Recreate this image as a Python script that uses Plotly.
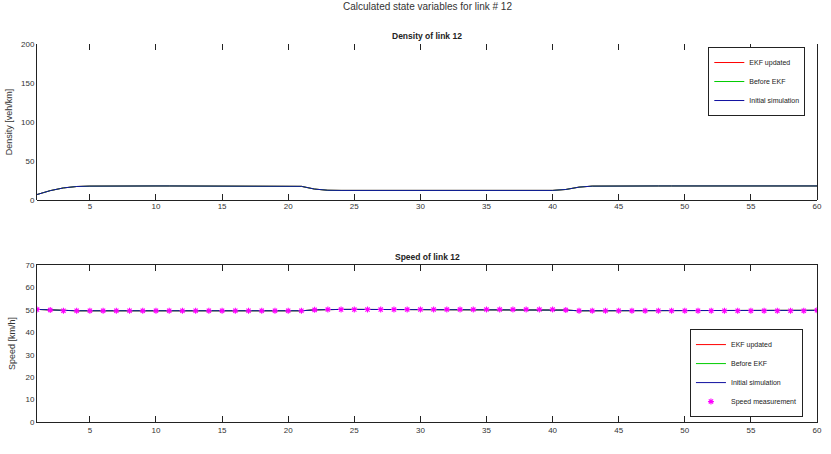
import plotly.graph_objects as go

steps = list(range(1, 61))

density_ekf = [7, 12, 15.5, 17.3, 17.8, 18, 18, 18, 18, 18,
               18, 18, 18, 18, 18, 18, 18, 18, 18, 18,
               17.5, 14, 12.5, 12.3, 12.3, 12.3, 12.3, 12.3, 12.3, 12.3,
               12.3, 12.3, 12.3, 12.3, 12.3, 12.3, 12.3, 12.3, 12.3, 12.3,
               13.5, 16.5, 17.8, 18, 18, 18, 18, 18, 18, 18,
               18, 18, 18, 18, 18, 18, 18, 18, 18, 18]
density_before = list(density_ekf)
density_initial = list(density_ekf)

speed_ekf = [50.2, 49.9, 49.6, 49.6, 49.6, 49.6, 49.6, 49.6, 49.6, 49.6,
             49.6, 49.6, 49.6, 49.6, 49.6, 49.6, 49.6, 49.6, 49.6, 49.6,
             49.6, 50.0, 50.2, 50.2, 50.2, 50.2, 50.2, 50.2, 50.2, 50.2,
             50.2, 50.2, 50.2, 50.2, 50.2, 50.2, 50.2, 50.2, 50.2, 50.2,
             49.9, 49.6, 49.6, 49.6, 49.6, 49.6, 49.6, 49.6, 49.6, 49.6,
             49.6, 49.6, 49.6, 49.6, 49.6, 49.6, 49.6, 49.6, 49.6, 49.8]
speed_before = list(speed_ekf)
speed_initial = list(speed_ekf)
speed_meas = list(speed_ekf)

x_ticks = [5, 10, 15, 20, 25, 30, 35, 40, 45, 50, 55, 60]
density_ticks = [0, 50, 100, 150, 200]
speed_ticks = [0, 10, 20, 30, 40, 50, 60, 70]

FONT = "Liberation Sans, Arial, sans-serif"

fig = go.Figure()

# Top: density
fig.add_trace(go.Scatter(x=steps, y=density_ekf, mode="lines", name="EKF updated",
                         line=dict(color="red", width=1), legend="legend", xaxis="x", yaxis="y"))
fig.add_trace(go.Scatter(x=steps, y=density_before, mode="lines", name="Before EKF",
                         line=dict(color="#00cc00", width=1), legend="legend", xaxis="x", yaxis="y"))
fig.add_trace(go.Scatter(x=steps, y=density_initial, mode="lines", name="Initial simulation",
                         line=dict(color="#1010a0", width=1), legend="legend", xaxis="x", yaxis="y"))

# Bottom: speed
fig.add_trace(go.Scatter(x=steps, y=speed_ekf, mode="lines", name="EKF updated",
                         line=dict(color="red", width=1), legend="legend2", xaxis="x2", yaxis="y2"))
fig.add_trace(go.Scatter(x=steps, y=speed_before, mode="lines", name="Before EKF",
                         line=dict(color="#00cc00", width=1), legend="legend2", xaxis="x2", yaxis="y2"))
fig.add_trace(go.Scatter(x=steps, y=speed_initial, mode="lines", name="Initial simulation",
                         line=dict(color="#1010a0", width=1), legend="legend2", xaxis="x2", yaxis="y2"))
fig.add_trace(go.Scatter(x=steps, y=speed_meas, mode="markers", name="Speed measurement",
                         marker=dict(symbol="asterisk-open", size=5, color="magenta",
                                     line=dict(color="magenta", width=1.1)),
                         legend="legend2", xaxis="x2", yaxis="y2"))

axis_font = dict(family=FONT, size=8, color="#333")

fig.update_layout(
    width=831, height=454,
    margin=dict(l=30, r=9, t=44, b=32),
    paper_bgcolor="white", plot_bgcolor="white",
    font=dict(family=FONT, size=8, color="#222"),
    xaxis=dict(domain=[0, 1], range=[1, 60], tickvals=x_ticks, ticks="inside", ticklen=6,
               tickcolor="#222", showline=False, mirror="ticks", showgrid=False,
               zeroline=False, tickfont=axis_font, anchor="y"),
    yaxis=dict(domain=[0.5873, 1], range=[0, 200], tickvals=density_ticks, ticks="",
               showline=True, linecolor="#222", linewidth=1, mirror=True, showgrid=False,
               zeroline=True, zerolinecolor="#222", zerolinewidth=1,
               tickfont=axis_font, anchor="x",
               title=dict(text="Density [veh/km]", font=dict(family=FONT, size=9, color="#333"), standoff=6)),
    xaxis2=dict(domain=[0, 1], range=[1, 60], tickvals=x_ticks, ticks="inside", ticklen=6,
                tickcolor="#222", showline=True, linecolor="#222", linewidth=1, mirror="ticks",
                showgrid=False, zeroline=False, tickfont=axis_font, anchor="y2"),
    yaxis2=dict(domain=[0, 0.4153], range=[0, 70], tickvals=speed_ticks, ticks="",
                showline=True, linecolor="#222", linewidth=1, mirror=True, showgrid=False,
                zeroline=False, tickfont=axis_font, anchor="x2",
                title=dict(text="Speed [km/h]", font=dict(family=FONT, size=9, color="#333"), standoff=8)),
    legend=dict(x=0.985, y=0.992, xanchor="right", yanchor="top", bgcolor="white",
                bordercolor="#222", borderwidth=1, font=dict(family=FONT, size=7, color="#222"),
                itemwidth=30, tracegroupgap=0),
    legend2=dict(x=0.982, y=0.013, xanchor="right", yanchor="bottom", bgcolor="white",
                 bordercolor="#222", borderwidth=1, font=dict(family=FONT, size=7, color="#222"),
                 itemwidth=30, tracegroupgap=0),
    annotations=[
        dict(text="Calculated state variables for link # 12", xref="paper", yref="paper",
             x=0.5, y=1.0995, xanchor="center", yanchor="middle", showarrow=False,
             font=dict(family=FONT, size=10, color="#333")),
        dict(text="<b>Density of link 12</b>", xref="paper", yref="paper",
             x=0.5, y=1.0212, xanchor="center", yanchor="middle", showarrow=False,
             font=dict(family=FONT, size=8.5, color="#222")),
        dict(text="<b>Speed of link 12</b>", xref="paper", yref="paper",
             x=0.5, y=0.4365, xanchor="center", yanchor="middle", showarrow=False,
             font=dict(family=FONT, size=8.5, color="#222")),
    ],
)

fig.write_html("out.html")
